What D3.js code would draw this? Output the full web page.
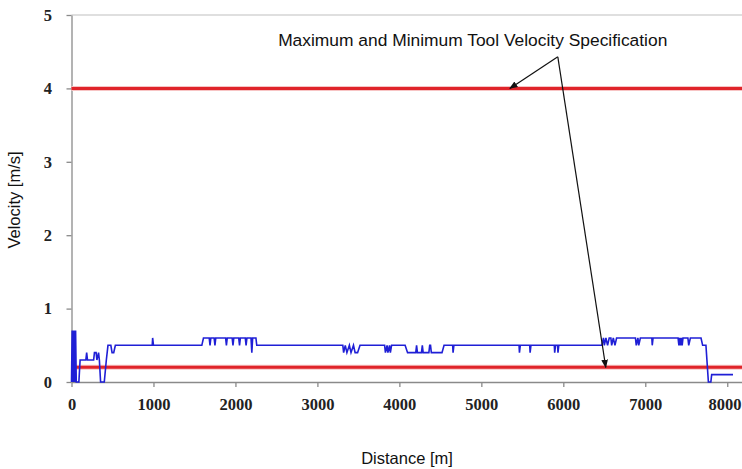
<!DOCTYPE html>
<meta charset="utf-8">
<style>
  body { margin: 0; background: #fff; }
  .tick text { font-family: "Liberation Serif", "Times New Roman", serif; font-weight: bold; font-size: 16.5px; fill: #222; }
  .title { font-family: "Liberation Sans", Arial, sans-serif; font-size: 16.5px; fill: #111; }
  .note { font-family: "Liberation Sans", Arial, sans-serif; font-size: 17.4px; fill: #111; }
</style>
<svg width="742" height="469"></svg>
<script src="https://cdn.jsdelivr.net/npm/d3@7"></script>
<script>

// tool velocity log
var distance = [0, 8, 14, 22, 28, 36, 42, 50, 58, 90, 105, 175, 185, 195, 270, 280, 300, 310, 330, 340, 355, 400, 425, 445, 480, 495, 515, 535,
  985, 990, 1000, 1590, 1610, 1680, 1690, 1700, 1740, 1750, 1760, 1880, 1890, 1900, 1960, 1970, 1980, 2040, 2050, 2060, 2120, 2130, 2140, 2190, 2200, 2210, 2250, 2260,
  3310, 3320, 3340, 3360, 3390, 3410, 3440, 3460, 3490, 3520,
  3820, 3830, 3850, 3860, 3880, 3890, 3905,
  4070, 4100, 4200, 4210, 4220, 4270, 4280, 4290, 4360, 4370, 4380, 4390, 4520, 4545, 4650, 4655, 4665,
  5460, 5465, 5475, 5590, 5595, 5605, 5890, 5895, 5905, 5930, 5935, 5945,
  6470, 6490, 6500, 6520, 6540, 6560, 6580, 6590, 6610, 6630, 6650, 6880, 6890, 6910, 6920, 6940, 7080, 7085, 7095,
  7400, 7410, 7420, 7430, 7440, 7450, 7460, 7520, 7530, 7550, 7680, 7700, 7740, 7770, 7800, 7810, 8070];
var velocity = [0, 0.7, 0, 0.7, 0, 0.7, 0, 0.7, 0, 0, 0.3, 0.3, 0.4, 0.3, 0.3, 0.4, 0.4, 0.3, 0.4, 0.3, 0, 0, 0.3, 0.5, 0.5, 0.4, 0.4, 0.5,
  0.5, 0.6, 0.5, 0.5, 0.6, 0.6, 0.5, 0.6, 0.6, 0.5, 0.6, 0.6, 0.5, 0.6, 0.6, 0.5, 0.6, 0.6, 0.5, 0.6, 0.6, 0.5, 0.6, 0.6, 0.4, 0.6, 0.6, 0.5,
  0.5, 0.4, 0.5, 0.4, 0.5, 0.4, 0.5, 0.4, 0.4, 0.5,
  0.5, 0.4, 0.5, 0.4, 0.5, 0.4, 0.5,
  0.5, 0.4, 0.4, 0.5, 0.4, 0.4, 0.5, 0.4, 0.4, 0.5, 0.5, 0.4, 0.4, 0.5, 0.5, 0.4, 0.5,
  0.5, 0.4, 0.5, 0.5, 0.4, 0.5, 0.5, 0.4, 0.5, 0.5, 0.4, 0.5,
  0.5, 0.6, 0.5, 0.6, 0.5, 0.6, 0.6, 0.5, 0.6, 0.5, 0.6, 0.6, 0.5, 0.6, 0.5, 0.6, 0.6, 0.5, 0.6,
  0.6, 0.5, 0.6, 0.5, 0.6, 0.5, 0.6, 0.6, 0.5, 0.6, 0.6, 0.5, 0.5, 0, 0, 0.1, 0.1];

var specLimits = [4, 0.2];
var xTicks = [0, 1000, 2000, 3000, 4000, 5000, 6000, 7000, 8000];
var yTicks = [0, 1, 2, 3, 4, 5];

var noteText = "Maximum and Minimum Tool Velocity Specification";
var notePos = [4895, 4.58];
var arrowFrom = [5933, 4.43];
var arrowTips = [[5348, 4.0], [6518, 0.2]];

var svg = d3.select("svg");

var x = d3.scaleLinear().domain([0, 8180]).range([71.5, 742]);
var y = d3.scaleLinear().domain([0, 5]).range([382, 15]);

svg.append("defs").append("marker")
  .attr("id", "head")
  .attr("viewBox", "0 0 10 10")
  .attr("refX", 9).attr("refY", 5)
  .attr("markerWidth", 7).attr("markerHeight", 7)
  .attr("orient", "auto")
  .append("path").attr("d", "M0,1L10,5L0,9z").attr("fill", "#111");

// top frame line at 5
svg.append("line")
  .attr("x1", x(0)).attr("x2", x(8180))
  .attr("y1", y(5)).attr("y2", y(5))
  .attr("stroke", "#d4d4d4").attr("stroke-width", 1.5);

var gx = svg.append("g")
  .attr("transform", "translate(0," + y(0) + ")")
  .call(d3.axisBottom(x).tickValues(xTicks).tickFormat(d3.format("d")).tickSize(5).tickSizeOuter(0));
gx.selectAll("text").attr("dy", "1.2em");
// last label sits against the right edge
gx.selectAll(".tick").filter(function(d) { return d === 8000; }).select("text")
  .attr("text-anchor", "end").attr("x", 741 - x(8000));

var gy = svg.append("g")
  .attr("transform", "translate(" + x(0) + ",0)")
  .call(d3.axisLeft(y).tickValues(yTicks).tickFormat(d3.format("d")).tickSize(5).tickSizeOuter(0));
gy.selectAll("text").attr("dx", "-0.7em");

svg.selectAll(".domain, .tick line").attr("stroke", "#8a8a8a").attr("stroke-width", 1.3);

// spec limits
svg.selectAll(".spec-halo")
  .data(specLimits).enter().append("line")
  .attr("x1", x(0)).attr("x2", x(8180))
  .attr("y1", function(d) { return y(d); }).attr("y2", function(d) { return y(d); })
  .attr("stroke", "#f7c4c4").attr("stroke-width", 5);
svg.selectAll(".spec")
  .data(specLimits).enter().append("line")
  .attr("x1", x(0)).attr("x2", x(8180))
  .attr("y1", function(d) { return y(d); }).attr("y2", function(d) { return y(d); })
  .attr("stroke", "#e0242a").attr("stroke-width", 3);

var pts = d3.zip(distance, velocity);
svg.append("path")
  .datum(pts)
  .attr("fill", "none")
  .attr("stroke", "#1f1fd6")
  .attr("stroke-width", 1.6)
  .attr("d", d3.line().x(function(d) { return x(d[0]); }).y(function(d) { return y(d[1]); }));

// annotation
svg.selectAll(".arrow")
  .data(arrowTips).enter().append("line")
  .attr("x1", x(arrowFrom[0])).attr("y1", y(arrowFrom[1]))
  .attr("x2", function(d) { return x(d[0]); }).attr("y2", function(d) { return y(d[1]); })
  .attr("stroke", "#111").attr("stroke-width", 1.2)
  .attr("marker-end", "url(#head)");

svg.append("text").attr("class", "note")
  .attr("x", x(notePos[0])).attr("y", y(notePos[1]))
  .attr("text-anchor", "middle")
  .text(noteText);

svg.append("text").attr("class", "title")
  .attr("transform", "translate(20," + 200 + ") rotate(-90)")
  .attr("text-anchor", "middle")
  .text("Velocity [m/s]");

svg.append("text").attr("class", "title")
  .attr("x", 407).attr("y", 464)
  .attr("text-anchor", "middle")
  .text("Distance [m]");

</script>
